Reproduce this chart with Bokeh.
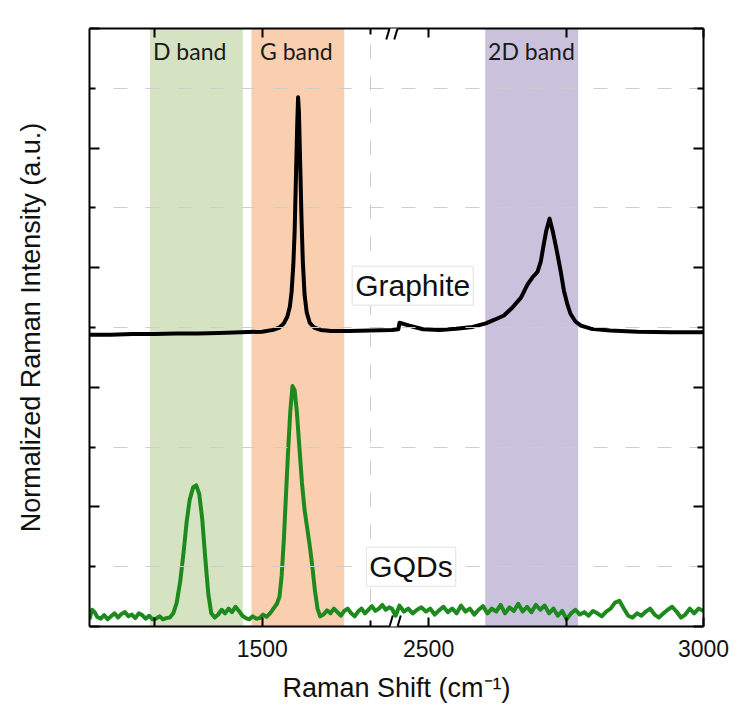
from bokeh.plotting import figure
from bokeh.models import (LinearAxis, FixedTicker, CustomJSTickFormatter, Label,
                          Arrow, BoxAnnotation)
from bokeh.embed import file_html
from bokeh.resources import INLINE

# ---------------- data ----------------
graphite_x = [1100, 1150, 1200, 1250, 1300, 1350, 1400, 1450, 1500, 1525, 1540, 1550,
              1558, 1564, 1568, 1572, 1575, 1578, 1581, 1583, 1585, 1588, 1591, 1594,
              1598, 1603, 1610, 1620, 1635, 1660, 1700, 1750, 1800,
              2433, 2445, 2447, 2465, 2490, 2520, 2550, 2580, 2604, 2620, 2637, 2652,
              2668, 2680, 2689, 2698, 2704, 2709, 2714, 2720, 2726, 2733, 2740, 2746,
              2752, 2758, 2767, 2777, 2795, 2830, 2880, 2940, 3000]
graphite_y = [4.88, 4.88, 4.89, 4.89, 4.90, 4.90, 4.91, 4.92, 4.93, 4.96, 5.00, 5.07,
              5.18, 5.35, 5.60, 6.05, 6.60, 7.50, 8.40, 8.85, 8.60, 7.70, 6.80, 6.10,
              5.55, 5.25, 5.08, 5.00, 4.96, 4.94, 4.94, 4.95, 4.96,
              4.96, 4.97, 5.08, 5.03, 4.97, 4.96, 4.98, 5.01, 5.07, 5.13, 5.20, 5.33,
              5.50, 5.72, 5.84, 5.93, 6.10, 6.37, 6.62, 6.82, 6.60, 6.29, 5.95, 5.62,
              5.40, 5.23, 5.10, 5.03, 4.98, 4.95, 4.93, 4.92, 4.92]

gqd_x = [1100, 1106, 1112, 1118, 1126, 1134, 1142, 1150, 1158, 1166, 1174, 1182, 1190,
         1198, 1206, 1214, 1222, 1230, 1238, 1246, 1254, 1262, 1270, 1278, 1286, 1294,
         1302, 1310, 1318, 1325, 1332, 1340, 1347, 1354, 1361, 1368, 1375, 1382, 1390,
         1398, 1406, 1414, 1422, 1430, 1438, 1446, 1454, 1462, 1470, 1478, 1486, 1494,
         1502, 1510, 1518, 1526, 1534, 1540, 1545, 1550, 1555, 1560, 1565, 1570, 1575,
         1580, 1586, 1592, 1598, 1604, 1610, 1616, 1622, 1628, 1634, 1642, 1650, 1658,
         1666, 1674, 1682, 1690, 1698, 1706, 1714, 1722, 1730, 1738, 1746, 1754, 1762,
         1770, 1778, 1786, 1794, 1800,
         2433, 2440, 2447, 2455, 2463, 2471, 2479, 2487, 2495, 2503, 2511, 2519, 2527,
         2535, 2543, 2551, 2559, 2567, 2575, 2583, 2591, 2599, 2607, 2615, 2623, 2631,
         2639, 2647, 2655, 2663, 2671, 2679, 2687, 2695, 2703, 2711, 2719, 2727, 2735,
         2743, 2751, 2759, 2767, 2775, 2783, 2791, 2799, 2807, 2815, 2823, 2831, 2839,
         2847, 2855, 2863, 2871, 2879, 2887, 2895, 2903, 2911, 2919, 2927, 2935, 2943,
         2951, 2959, 2967, 2975, 2983, 2991, 3000]
gqd_y = [0.12, 0.28, 0.24, 0.16, 0.13, 0.19, 0.12, 0.17, 0.22, 0.15, 0.21, 0.24, 0.17,
         0.20, 0.14, 0.22, 0.19, 0.13, 0.18, 0.12, 0.13, 0.17, 0.12, 0.14, 0.15, 0.22,
         0.40, 0.75, 1.25, 1.75, 2.12, 2.33, 2.36, 2.22, 1.80, 1.15, 0.55, 0.22, 0.15,
         0.20, 0.28, 0.22, 0.30, 0.24, 0.33, 0.26, 0.18, 0.14, 0.12, 0.17, 0.13, 0.14,
         0.20, 0.16, 0.22, 0.30, 0.38, 0.50, 0.85, 1.45, 2.20, 2.95, 3.60, 4.02, 3.95,
         3.60, 3.00, 2.40, 1.95, 1.65, 1.35, 1.00, 0.60, 0.30, 0.17, 0.20, 0.27, 0.22,
         0.30, 0.24, 0.18, 0.26, 0.30, 0.22, 0.17, 0.25, 0.30, 0.22, 0.28, 0.34, 0.26,
         0.30, 0.36, 0.28, 0.32, 0.30,
         0.30, 0.18, 0.35, 0.25, 0.30, 0.22, 0.28, 0.32, 0.25, 0.30, 0.20, 0.27, 0.33,
         0.24, 0.30, 0.22, 0.35, 0.25, 0.30, 0.20, 0.28, 0.34, 0.22, 0.30, 0.25, 0.36,
         0.22, 0.32, 0.26, 0.38, 0.25, 0.33, 0.24, 0.36, 0.28, 0.35, 0.22, 0.30, 0.18,
         0.26, 0.12, 0.22, 0.28, 0.20, 0.24, 0.18, 0.26, 0.22, 0.17, 0.25, 0.30, 0.40,
         0.43, 0.30, 0.18, 0.15, 0.22, 0.18, 0.25, 0.30, 0.20, 0.15, 0.22, 0.28, 0.33,
         0.25, 0.15, 0.20, 0.30, 0.22, 0.30, 0.26]

band_names = ["D band", "G band", "2D band"]
band_lo = [1240, 1475, 2603]
band_hi = [1455, 1690, 2772]
band_label_x = [1332, 1579, 2687]
band_colors = ["#d5e3c2", "#facfb0", "#cac2dd"]

x_tick_values = [1250, 1500, 2500, 2750, 3000]
x_tick_labels = ["", "1500", "2500", "", "3000"]
x_minor_values = [1750]
y_major = [0, 2, 4, 6, 8, 10]
y_minor = [1, 3, 5, 7, 9]

# ---------------- broken x axis mapping ----------------
X_MIN, BRK_L, BRK_R, X_MAX, RATIO = 1100, 1800, 2433, 3000, 1.273


def xmap(x):
    return x if x <= BRK_L else BRK_L + (x - BRK_R) * RATIO


U_MAX = xmap(X_MAX)
FRAME_W, FRAME_H = 614, 598
PX_U = (U_MAX - X_MIN) / FRAME_W     # data units per pixel (x)
PX_Y = 10.0 / FRAME_H                # data units per pixel (y)

p = figure(width=732, height=714, x_range=(X_MIN, U_MAX), y_range=(0, 10),
           output_backend="svg", toolbar_location=None,
           min_border_left=89, min_border_right=29, min_border_top=28,
           min_border_bottom=88)
p.outline_line_color = None
p.background_fill_color = "white"

bottom_ax = p.below[0]
left_ax = p.left[0]

# bands
p.quad(left=[xmap(v) for v in band_lo], right=[xmap(v) for v in band_hi],
       bottom=0, top=10, fill_color=band_colors, fill_alpha=1.0, line_color=None)

# grids
p.ygrid.ticker = FixedTicker(ticks=y_minor)
p.xgrid.ticker = FixedTicker(ticks=[xmap(v) for v in x_minor_values])
for g in (p.xgrid, p.ygrid):
    g.grid_line_color = "#cdcdcd"
    g.grid_line_width = 1
    g.grid_line_dash = "14 18"
    g.grid_line_dash_offset = 8
    g.level = "glyph"

# curves
p.line([xmap(v) for v in graphite_x], graphite_y, line_color="black", line_width=4,
       line_join="round")
p.line([xmap(v) for v in gqd_x], gqd_y, line_color="#1d8a1d", line_width=4,
       line_join="round")

# axes
xt = FixedTicker(ticks=[xmap(v) for v in x_tick_values],
                 minor_ticks=[xmap(v) for v in x_minor_values])
yt = FixedTicker(ticks=y_major, minor_ticks=y_minor)
xfmt = CustomJSTickFormatter(
    args=dict(vals=x_tick_values, labels=x_tick_labels, brkL=BRK_L, brkR=BRK_R, ratio=RATIO),
    code="""
let x = tick <= brkL + 1e-6 ? tick : brkR + (tick - brkL) / ratio;
x = Math.round(x);
const i = vals.indexOf(x);
return i >= 0 ? labels[i] : '';
""")

top_ax = LinearAxis(ticker=xt, formatter=CustomJSTickFormatter(code="return '';"))
right_ax = LinearAxis(ticker=yt, formatter=CustomJSTickFormatter(code="return '';"))
p.add_layout(top_ax, "above")
p.add_layout(right_ax, "right")

bottom_ax.ticker = xt
bottom_ax.formatter = xfmt
left_ax.ticker = yt
left_ax.formatter = CustomJSTickFormatter(code="return '';")

for ax in [bottom_ax, top_ax]:
    ax.major_tick_in = 9
    ax.major_tick_out = 0
    ax.minor_tick_in = 6
    ax.minor_tick_out = 0
for ax in [left_ax, right_ax]:
    ax.major_tick_in = 10
    ax.major_tick_out = 0
    ax.minor_tick_in = 6
    ax.minor_tick_out = 0
for ax in [bottom_ax, top_ax, left_ax, right_ax]:
    ax.axis_line_width = 2
    ax.axis_line_color = "black"
    ax.major_tick_line_width = 2
    ax.minor_tick_line_width = 2
    ax.major_tick_line_color = "black"
    ax.minor_tick_line_color = "black"
    ax.major_label_standoff = 0
    ax.major_label_text_font_size = "1px"

bottom_ax.major_label_standoff = 13
bottom_ax.major_label_text_font = "Liberation Sans"
bottom_ax.major_label_text_font_size = "23px"
bottom_ax.major_label_text_color = "#111111"
bottom_ax.axis_label = "Raman Shift (cm\u207b\u00b9)"
bottom_ax.axis_label_standoff = 13
left_ax.axis_label = "Normalized Raman Intensity (a.u.)"
left_ax.axis_label_standoff = 44
for ax in [bottom_ax, left_ax]:
    ax.axis_label_text_font = "Liberation Sans"
    ax.axis_label_text_font_size = "27px"
    ax.axis_label_text_font_style = "normal"
    ax.axis_label_text_color = "#111111"

# band labels
for name, bx in zip(band_names, band_label_x):
    p.add_layout(Label(x=xmap(bx), y=10 - 22 * PX_Y, text=name, text_align="center",
                       text_baseline="middle", text_font="Lato", text_font_size="23px",
                       text_color="#1a1a1a"))

# series labels
for txt, lx, ly in [("Graphite", 2471, 5.70), ("GQDs", 2468, 1.0)]:
    p.add_layout(Label(x=xmap(lx), y=ly, text=txt, text_align="center",
                       text_baseline="middle", text_font="Liberation Sans",
                       text_font_size="30px", text_color="#111111",
                       background_fill_color="white", border_line_color="#e2e2e2",
                       border_line_width=1, padding=3))

# axis break marks
bu = BRK_L
for yb in (0, 10):
    p.add_layout(BoxAnnotation(left=bu - 2 * PX_U, right=bu + 6 * PX_U,
                               bottom=yb - 4 * PX_Y, top=yb + 4 * PX_Y,
                               fill_color="white", fill_alpha=1, line_color=None))
    for off in (-5.5, 2.5):
        p.add_layout(Arrow(end=None, x_start=bu + off * PX_U, y_start=yb - 11 * PX_Y,
                           x_end=bu + (off + 6.5) * PX_U, y_end=yb + 11 * PX_Y,
                           line_color="black", line_width=2))

open("out.html", "w").write(file_html(p, INLINE))
